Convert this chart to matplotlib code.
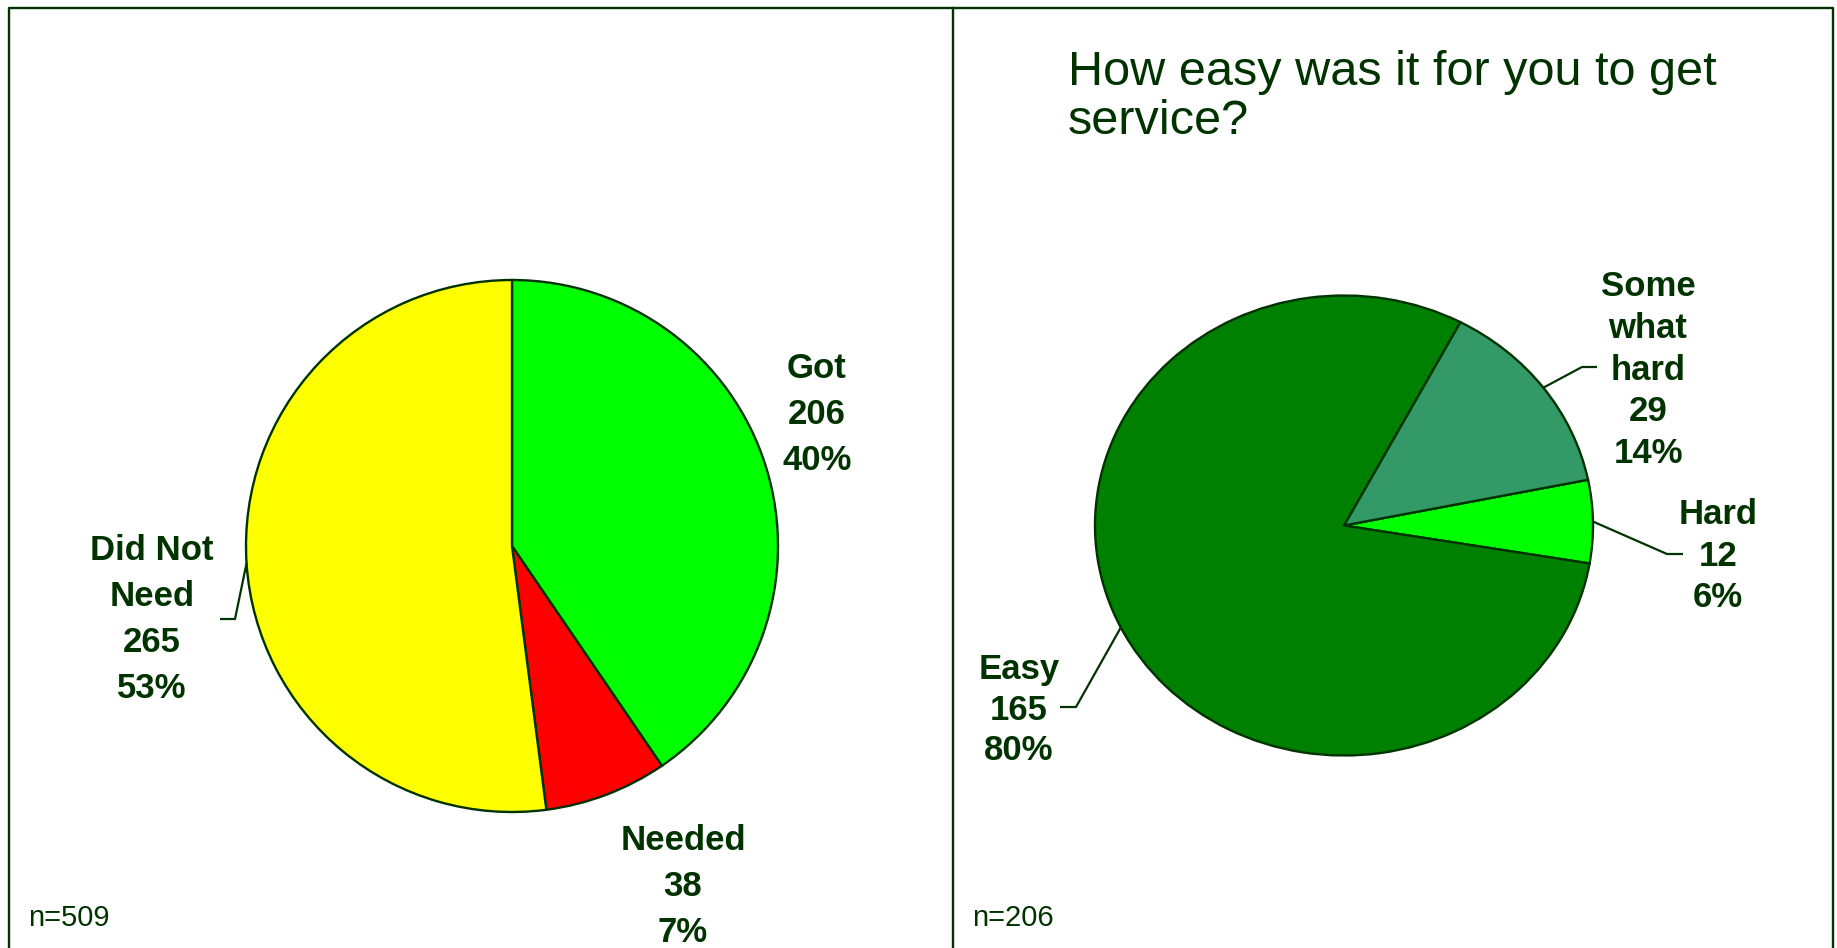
import numpy as np
import matplotlib
matplotlib.use("Agg")
import matplotlib.pyplot as plt
from matplotlib.lines import Line2D

# --- data -------------------------------------------------------------
left_labels = ["Got", "Needed", "Did Not\nNeed"]
left_values = [206, 38, 265]
left_pcts = [40, 7, 53]
left_colors = ["#00FF00", "#FF0000", "#FFFF00"]
left_n = 509

right_labels = ["Hard", "Some\nwhat\nhard", "Easy"]
right_values = [12, 29, 165]
right_pcts = [6, 14, 80]
right_colors = ["#00FF00", "#339966", "#008000"]
right_n = 206

right_title = "How easy was it for you to get\nservice?"

# --- style ------------------------------------------------------------
W, H = 1837, 948
DARK = "#003300"
plt.rcParams["font.family"] = ["Liberation Sans", "DejaVu Sans"]

fig = plt.figure(figsize=(W / 100, H / 100), dpi=100)


def fx(px):
    return px / W


def fy(py):
    return 1 - py / H


def pie_axes(cx, cy, rx, ry):
    """Axes whose data box (-1..1) spans the pie's ellipse, given in pixels."""
    return fig.add_axes([fx(cx - rx), fy(cy + ry), 2 * rx / W, 2 * ry / H])


def draw_pie(ax, values, colors, startangle, counterclock):
    wedges, _ = ax.pie(values, colors=colors, startangle=startangle,
                       counterclock=counterclock, radius=1.0,
                       wedgeprops=dict(edgecolor=DARK, linewidth=1.7))
    ax.set_aspect("auto")
    ax.set_xlim(-1, 1)
    ax.set_ylim(-1, 1)
    ax.axis("off")
    return wedges


def label_text(name, values, pcts, i):
    return f"{name}\n{values[i]}\n{pcts[i]}%"


def edge_point(wedge):
    mid = np.deg2rad((wedge.theta1 + wedge.theta2) / 2)
    return np.cos(mid), np.sin(mid)


def leader(ax, wedge, elbow_px, end_px):
    """Leader from the wedge's outer mid-point to an elbow, then flat to the label."""
    x0, y0 = edge_point(wedge)
    to_data = ax.transData.inverted()
    pts = [to_data.transform(fig.transFigure.transform((fx(p[0]), fy(p[1]))))
           for p in (elbow_px, end_px)]
    ax.plot([x0, pts[0][0], pts[1][0]], [y0, pts[0][1], pts[1][1]],
            color=DARK, lw=1.6, clip_on=False, solid_capstyle="butt")


LBL = dict(ha="center", va="center", fontsize=25, fontweight="bold",
           color=DARK)

# --- left pie ---------------------------------------------------------
axL = pie_axes(512, 546, 266, 266)
wl = draw_pie(axL, left_values, left_colors, 90, False)
fig.text(fx(817), fy(414), label_text(left_labels[0], left_values, left_pcts, 0),
         linespacing=1.5, **LBL)
fig.text(fx(683), fy(886), label_text(left_labels[1], left_values, left_pcts, 1),
         linespacing=1.5, **LBL)
fig.text(fx(152), fy(620), label_text(left_labels[2], left_values, left_pcts, 2),
         linespacing=1.5, **LBL)
leader(axL, wl[2], (235, 619), (220, 619))
fig.text(fx(28), fy(918), f"n={left_n}", ha="left", va="center",
         fontsize=21, color=DARK)

# --- right pie --------------------------------------------------------
axR = pie_axes(1344, 525.5, 249, 230)
wr = draw_pie(axR, right_values, right_colors, -9.5, True)
fig.text(fx(1718), fy(556), label_text(right_labels[0], right_values, right_pcts, 0),
         linespacing=1.33, **LBL)
fig.text(fx(1648), fy(370), label_text(right_labels[1], right_values, right_pcts, 1),
         linespacing=1.33, **LBL)
fig.text(fx(1019), fy(710), label_text(right_labels[2], right_values, right_pcts, 2),
         linespacing=1.3, **LBL)
leader(axR, wr[0], (1667, 554), (1683, 554))
leader(axR, wr[1], (1582, 367), (1597, 367))
leader(axR, wr[2], (1076, 707), (1060, 707))
fig.text(fx(972), fy(918), f"n={right_n}", ha="left", va="center",
         fontsize=21, color=DARK)

fig.text(fx(1068), fy(97), right_title, ha="left", va="center",
         fontsize=35, color=DARK, linespacing=1.1)

# --- panel frame ------------------------------------------------------
frame = dict(color=DARK, lw=1.7, transform=fig.transFigure)
fig.add_artist(Line2D([fx(9), fx(9), fx(1833), fx(1833)],
                      [fy(H), fy(8), fy(8), fy(H)], **frame))
fig.add_artist(Line2D([fx(953), fx(953)], [fy(8), fy(H)], **frame))

fig.savefig("out.png", dpi=100, facecolor="white")
